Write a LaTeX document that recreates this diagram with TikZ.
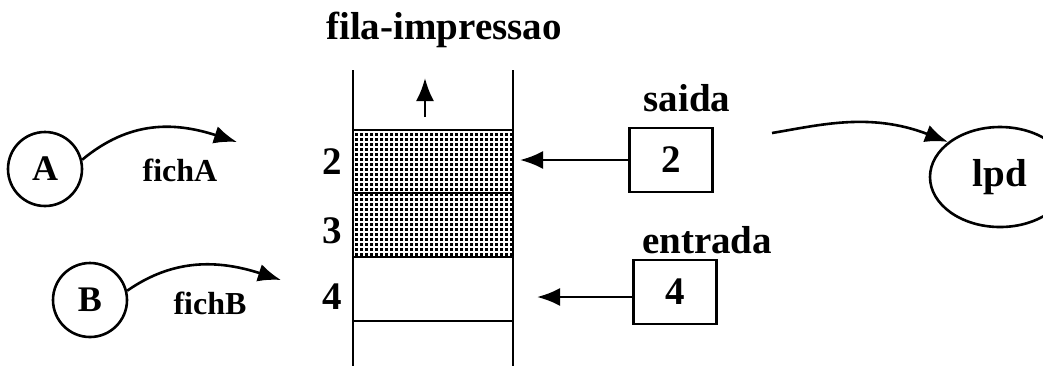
\documentclass[tikz,border=0pt]{standalone}
\usepackage{fontspec}
\setmainfont{Liberation Serif}
\usetikzlibrary{arrows.meta,patterns,shapes.geometric}
\pgfdeclarepatternformonly{qdots}{\pgfqpoint{-1pt}{-1pt}}{\pgfqpoint{3pt}{3pt}}{\pgfqpoint{2.5pt}{2.5pt}}{%
	\pgfpathrectangle{\pgfqpoint{0pt}{0pt}}{\pgfqpoint{1.3pt}{1.3pt}}\pgfusepath{fill}}
\begin{document}
\begin{tikzpicture}[x=0.5pt, y=-0.5pt, line width=1.3pt,
		big/.style = {font=\bfseries\fontsize{19.5}{22}\selectfont},
		small/.style = {font=\bfseries\fontsize{16}{18}\selectfont},
		proc/.style = {draw, circle, minimum size=37pt, inner sep=0pt, font=\bfseries\fontsize{18}{20}\selectfont},
		reg/.style = {draw, rectangle, minimum width=41.5pt, minimum height=32pt, inner sep=0pt, big},
		arr/.style = {-{Latex[length=11.5pt, width=9pt]}},
		cell/.style = {pattern=qdots}]
		\useasboundingbox (0,0) rectangle (1043,366);
		\clip (0,0) rectangle (1043,366);
		
		\coordinate (q0) at (353,70);
		\coordinate (q1) at (513,70);
		\coordinate (fA) at (237,142);
		\coordinate (fB) at (281,280);
		\coordinate (out2) at (520,160);
		\coordinate (in4) at (537,297);
		\coordinate (up0) at (425,117);
		\coordinate (up1) at (425,78);
		\coordinate (lp0) at (772,133);
		
		\fill[cell] (353,130) rectangle (513,257);
		\draw (353,130) -- (513,130);
		\draw (353,193) -- (513,193);
		\draw (353,257) -- (513,257);
		\draw (353,321) -- (513,321);
		\draw (q0) -- (353,366);
		\draw (q1) -- (513,366);
		\draw[arr] (up0) -- (up1);
		
		\node[big] (title) at (444,30) {fila-impressao};
		\node[big] (n2) at (332,162) {2};
		\node[big] (n3) at (332,231) {3};
		\node[big] (n4) at (332,297) {4};
		
		\node[proc] (A) at (45,169) {A};
		\node[proc] (B) at (90,300) {B};
		\node[small] (fichA) at (180,170) {fichA};
		\node[small] (fichB) at (210,303) {fichB};
		
		\node[reg] (saida) at (671,160) {2};
		\node[reg] (entrada) at (675,292) {4};
		\node[big] (saidalbl) at (687,98) {saida};
		\node[big] (entradalbl) at (707,240) {entrada};
		
		\node[draw, ellipse, minimum width=70pt, minimum height=50pt, inner sep=0pt, big] (lpd) at (1000,177) {lpd};
		
		\draw[arr] (A.14) .. controls (130,120) and (175,122) .. (fA);
		\draw[arr] (B.14) .. controls (174,258) and (219,260) .. (fB);
		\draw[arr] (saida.west |- out2) -- (out2);
		\draw[arr] (entrada.west |- in4) -- (in4);
		\draw[arr] (lp0) .. controls (820,125) and (870,112) .. (lpd.146);
	\end{tikzpicture}
\end{document}
